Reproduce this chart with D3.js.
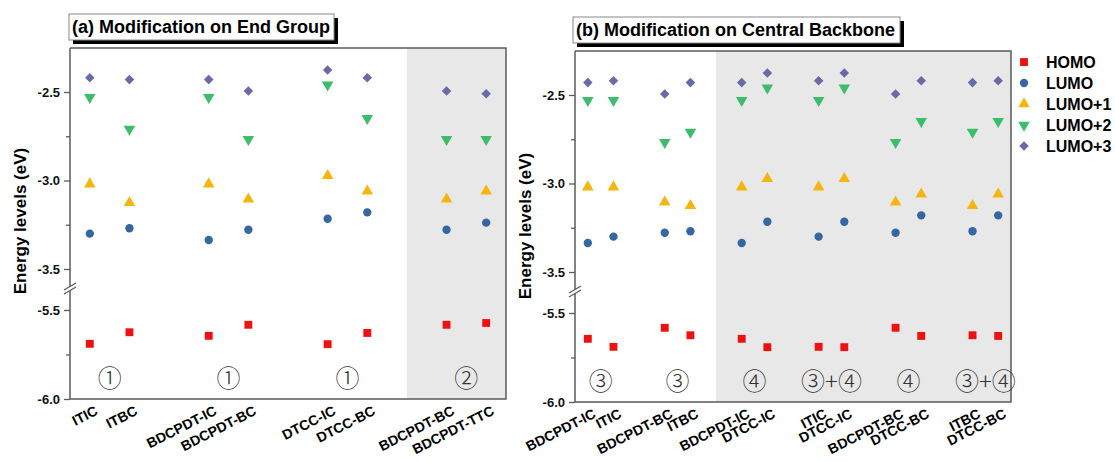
<!DOCTYPE html>
<html>
  <head>
    <meta charset="utf-8">
    <title>energy levels</title>
    <script src="https://d3js.org/d3.v7.min.js"></script>
    <style>
      body { margin: 0; background: #fff; }
      text { font-family: Arial, "Liberation Sans", sans-serif; }
    </style>
  </head>
  <body>
    <svg width="1115" height="462"></svg>
    <script>
    // energies per compound (eV)
    var compounds = ["ITIC", "ITBC", "BDCPDT-IC", "BDCPDT-BC", "DTCC-IC", "DTCC-BC", "BDCPDT-TTC"];
    var homo  = [-5.69, -5.625, -5.645, -5.583, -5.692, -5.629, -5.573];
    var lumo  = [-3.30, -3.27, -3.336, -3.278, -3.216, -3.18, -3.238];
    var lumo1 = [-3.02, -3.125, -3.02, -3.105, -2.973, -3.06, -3.06];
    var lumo2 = [-2.53, -2.71, -2.53, -2.767, -2.46, -2.649, -2.767];
    var lumo3 = [-2.42, -2.43, -2.43, -2.494, -2.376, -2.42, -2.51];

    var seriesNames = ["HOMO", "LUMO", "LUMO+1", "LUMO+2", "LUMO+3"];
    var seriesValues = [homo, lumo, lumo1, lumo2, lumo3];
    var seriesColors = ["#ee1111", "#3567a0", "#f6b50c", "#3dbd6b", "#6b6aa8"];

    // category slots (null = gap)
    var catsA = ["ITIC", "ITBC", null, "BDCPDT-IC", "BDCPDT-BC", null, "DTCC-IC", "DTCC-BC", null, "BDCPDT-BC", "BDCPDT-TTC"];
    var catsB = ["BDCPDT-IC", "ITIC", null, "BDCPDT-BC", "ITBC", null, "BDCPDT-IC", "DTCC-IC", null,
                 "ITIC", "DTCC-IC", null, "BDCPDT-BC", "DTCC-BC", null, "ITBC", "DTCC-BC"];
    var groupsA = ["①", "①", "①", "②"];
    var groupsB = ["③", "③", "④", "③+④", "④", "③+④"];

    var upperTicks = [-2.5, -3.0, -3.5], upperMinor = [-2.75, -3.25];
    var lowerTicks = [-5.5, -6.0], lowerMinor = [-5.75];

    var svg = d3.select("svg");
    var axisColor = "#5a5a5a";

    function symbolFor(i) {
      if (i == 0) return d3.symbol().type(d3.symbolSquare).size(62)();
      if (i == 1) return d3.symbol().type(d3.symbolCircle).size(55)();
      if (i == 2 || i == 3) return d3.symbol().type(d3.symbolTriangle).size(58)();
      return d3.symbol().type(d3.symbolDiamond2).size(58)();
    }

    function drawPanel(cfg) {
      var g = svg.append("g");
      var top = cfg.top, bottom = cfg.bottom;
      var x = d3.scaleLinear().domain([-0.5, cfg.cats.length - 0.5]).range([cfg.left, cfg.right]);
      var yU = d3.scaleLinear().domain([-2.5, -3.5]).range([top + 44, top + 221]);
      var yL = d3.scaleLinear().domain([-5.5, -6.0]).range([top + 262, bottom]);
      var brk = top + 240;
      function y(v) { return v > -4.5 ? yU(v) : yL(v); }

      // shaded area
      g.append("rect")
        .attr("x", x(cfg.shade)).attr("y", top)
        .attr("width", cfg.right - x(cfg.shade)).attr("height", bottom - top)
        .attr("fill", "#e8e8e8");

      // frame
      g.append("path")
        .attr("d", "M" + cfg.left + "," + top + "H" + cfg.right + "V" + bottom + "H" + cfg.left)
        .attr("fill", "none").attr("stroke", axisColor).attr("stroke-width", 1.5);
      g.append("line").attr("x1", cfg.left).attr("x2", cfg.left).attr("y1", top).attr("y2", brk - 1.5)
        .attr("stroke", axisColor).attr("stroke-width", 1.5);
      g.append("line").attr("x1", cfg.left).attr("x2", cfg.left).attr("y1", brk + 2.5).attr("y2", bottom)
        .attr("stroke", axisColor).attr("stroke-width", 1.5);
      // break marks
      [-2, 2].forEach(function(o) {
        g.append("line")
          .attr("x1", cfg.left - 6).attr("y1", brk + o + 4)
          .attr("x2", cfg.left + 6).attr("y2", brk + o - 3)
          .attr("stroke", axisColor).attr("stroke-width", 1.3);
      });

      // y axes
      function yAxis(scale, ticks, minor) {
        var a = g.append("g").attr("transform", "translate(" + cfg.left + ",0)")
          .call(d3.axisLeft(scale).tickValues(ticks).tickSize(6).tickPadding(4)
            .tickFormat(function(d) { return d.toFixed(1); }));
        a.select(".domain").remove();
        a.selectAll("line").attr("stroke", axisColor).attr("stroke-width", 1.3);
        a.selectAll("text").attr("font-size", 13).attr("font-weight", "bold").attr("fill", "#111")
          .style("font-family", "Arial, 'Liberation Sans', sans-serif");
        var m = g.append("g").attr("transform", "translate(" + cfg.left + ",0)")
          .call(d3.axisLeft(scale).tickValues(minor).tickSize(4).tickFormat(""));
        m.select(".domain").remove();
        m.selectAll("line").attr("stroke", axisColor).attr("stroke-width", 1.3);
      }
      yAxis(yU, upperTicks, upperMinor);
      yAxis(yL, lowerTicks, lowerMinor);

      g.append("text")
        .attr("transform", "translate(" + (cfg.left - 44) + "," + cfg.labelY + ") rotate(-90)")
        .attr("text-anchor", "middle").attr("font-size", 17).attr("font-weight", "bold")
        .text("Energy levels (eV)");

      // points
      var slots = [];
      cfg.cats.forEach(function(c, i) { if (c) slots.push({ i: i, name: c }); });
      seriesValues.forEach(function(vals, s) {
        g.selectAll(".s" + s).data(slots).enter().append("path")
          .attr("d", symbolFor(s))
          .attr("transform", function(d) {
            var v = vals[compounds.indexOf(d.name)];
            return "translate(" + x(d.i) + "," + y(v) + ")" + (s == 3 ? " rotate(180)" : "");
          })
          .attr("fill", seriesColors[s]);
      });

      // x labels
      g.selectAll(".xl").data(slots).enter().append("text")
        .attr("transform", function(d) { return "translate(" + (x(d.i) + 9) + "," + (bottom + 15) + ") rotate(-27)"; })
        .attr("text-anchor", "end").attr("font-size", 14).attr("font-weight", "bold")
        .text(function(d) { return d.name; });

      // group markers
      g.selectAll(".grp").data(cfg.groups).enter().append("text")
        .attr("x", function(d, i) { return x(i * 3 + 0.5); })
        .attr("y", bottom - 20)
        .attr("dy", "0.35em")
        .attr("text-anchor", "middle")
        .attr("font-size", 24)
        .attr("fill", "#333")
        .style("font-family", "'Noto Sans CJK SC', 'DejaVu Serif', serif")
        .style("font-weight", "300")
        .text(function(d) { return d; });

      // title
      var tb = cfg.title;
      g.append("rect").attr("x", tb.x + 4).attr("y", tb.y + 4).attr("width", tb.w).attr("height", 26).attr("fill", "#000");
      g.append("rect").attr("x", tb.x).attr("y", tb.y).attr("width", tb.w).attr("height", 26)
        .attr("fill", "#fff").attr("stroke", "#888").attr("stroke-width", 1);
      g.append("text").attr("x", tb.x + 3).attr("y", tb.y + 19)
        .attr("font-size", 18).attr("font-weight", "bold").text(tb.text);
    }

    drawPanel({ left: 70, right: 506, top: 48, bottom: 399, cats: catsA, shade: 8, groups: groupsA, labelY: 221,
      title: { x: 69, y: 14, w: 265, text: "(a) Modification on End Group" } });
    drawPanel({ left: 575, right: 1011, top: 51, bottom: 402, cats: catsB, shade: 5, groups: groupsB, labelY: 226,
      title: { x: 573, y: 17, w: 327, text: "(b) Modification on Central Backbone" } });

    // legend
    var lg = svg.append("g").attr("transform", "translate(1024,62)");
    seriesNames.forEach(function(n, i) {
      var row = lg.append("g").attr("transform", "translate(0," + (i * 21) + ")");
      row.append("path").attr("d", symbolFor(i))
        .attr("transform", i == 3 ? "rotate(180)" : null)
        .attr("fill", seriesColors[i]);
      row.append("text").attr("x", 22).attr("dy", "0.36em")
        .attr("font-size", 16).attr("font-weight", "bold").text(n);
    });
    </script>
  </body>
</html>
